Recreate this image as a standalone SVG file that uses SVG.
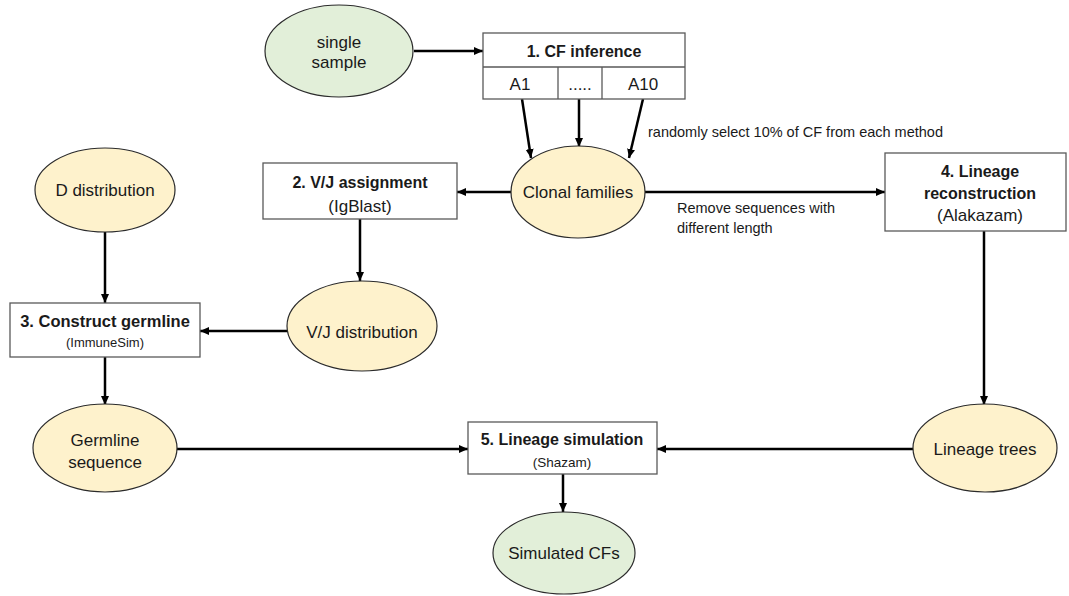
<svg xmlns="http://www.w3.org/2000/svg" width="1069" height="596" viewBox="0 0 1069 596">
<style>
.bg{fill:#ffffff}
.box{fill:#ffffff;stroke:#595959;stroke-width:1.3}
.ey{fill:#fef2cc;stroke:#2b2b2b;stroke-width:1.2}
.eg{fill:#e2efd9;stroke:#2b2b2b;stroke-width:1.2}
text{font-family:"Liberation Sans",Arial,sans-serif;fill:#1a1a1a;text-anchor:middle}
.t{font-size:17px}
.b{font-size:16px;font-weight:bold}
.s{font-size:13.5px}
.n{font-size:14.5px;text-anchor:start}
.c{stroke:#000;stroke-width:2.5;fill:none;marker-end:url(#ah)}
</style>
<defs>
<marker id="ah" markerUnits="userSpaceOnUse" markerWidth="10" markerHeight="10" refX="9" refY="4" orient="auto">
<path d="M0,0 L9,4 L0,8 Z" fill="#000"/>
</marker>
</defs>
<rect class="bg" x="0" y="0" width="1069" height="596"/>
<g id="connectors">
<line class="c" x1="414" y1="51" x2="483" y2="51"/>
<line class="c" x1="522" y1="99" x2="531" y2="158"/>
<line class="c" x1="579" y1="99" x2="579" y2="147"/>
<line class="c" x1="643" y1="99" x2="629" y2="158"/>
<line class="c" x1="511" y1="192" x2="457" y2="192"/>
<line class="c" x1="645" y1="192" x2="885" y2="192"/>
<line class="c" x1="360" y1="219" x2="360" y2="281"/>
<line class="c" x1="105" y1="232" x2="105" y2="303"/>
<line class="c" x1="287" y1="331" x2="200" y2="331"/>
<line class="c" x1="105" y1="357" x2="105" y2="405"/>
<line class="c" x1="984" y1="231" x2="984" y2="405"/>
<line class="c" x1="177" y1="449" x2="468" y2="449"/>
<line class="c" x1="913" y1="449" x2="657" y2="449"/>
<line class="c" x1="563" y1="474" x2="563" y2="512"/>
<text class="n" x="648" y="137">randomly select 10% of CF from each method</text>
<text class="n" x="677" y="213">Remove sequences with</text>
<text class="n" x="677" y="233">different length</text>
</g>
<g id="single-sample">
<ellipse class="eg" cx="339" cy="51" rx="74" ry="46"/>
<text class="t" x="339" y="48">single</text>
<text class="t" x="339" y="68">sample</text>
</g>
<g id="cf-inference">
<rect class="box" x="483" y="33" width="202" height="66"/>
<line class="box" x1="483" y1="67" x2="685" y2="67"/>
<line class="box" x1="558" y1="67" x2="558" y2="99"/>
<line class="box" x1="602" y1="67" x2="602" y2="99"/>
<text class="b" x="584" y="57">1. CF inference</text>
<text class="t" x="520" y="90">A1</text>
<text class="t" x="580" y="90">.....</text>
<text class="t" x="643" y="90">A10</text>
</g>
<g id="clonal-families">
<ellipse class="ey" cx="578" cy="192" rx="67" ry="46"/>
<text class="t" x="578" y="198">Clonal families</text>
</g>
<g id="vj-assignment">
<rect class="box" x="263" y="163" width="194" height="56"/>
<text class="b" x="360" y="188">2. V/J assignment</text>
<text class="t" x="360" y="212">(IgBlast)</text>
</g>
<g id="lineage-reconstruction">
<rect class="box" x="885" y="153" width="181" height="78"/>
<text class="b" x="980" y="177">4. Lineage</text>
<text class="b" x="980" y="199">reconstruction</text>
<text class="t" x="980" y="221">(Alakazam)</text>
</g>
<g id="d-distribution">
<ellipse class="ey" cx="105" cy="190" rx="70" ry="42"/>
<text class="t" x="105" y="196">D distribution</text>
</g>
<g id="vj-distribution">
<ellipse class="ey" cx="362" cy="326" rx="75" ry="45"/>
<text class="t" x="362" y="338">V/J distribution</text>
</g>
<g id="construct-germline">
<rect class="box" x="10" y="303" width="190" height="54"/>
<text class="b" x="105" y="327" style="font-size:16.5px">3. Construct germline</text>
<text class="s" x="105" y="347" style="font-size:13px">(ImmuneSim)</text>
</g>
<g id="germline-sequence">
<ellipse class="ey" cx="105" cy="448" rx="72" ry="44"/>
<text class="t" x="105" y="446">Germline</text>
<text class="t" x="105" y="468">sequence</text>
</g>
<g id="lineage-simulation">
<rect class="box" x="468" y="422" width="189" height="52"/>
<text class="b" x="562" y="445">5. Lineage simulation</text>
<text class="s" x="562" y="467">(Shazam)</text>
</g>
<g id="lineage-trees">
<ellipse class="ey" cx="985" cy="448" rx="72" ry="44"/>
<text class="t" x="985" y="455">Lineage trees</text>
</g>
<g id="simulated-cfs">
<ellipse class="eg" cx="564" cy="553" rx="71" ry="41"/>
<text class="t" x="564" y="559">Simulated CFs</text>
</g>
</svg>
